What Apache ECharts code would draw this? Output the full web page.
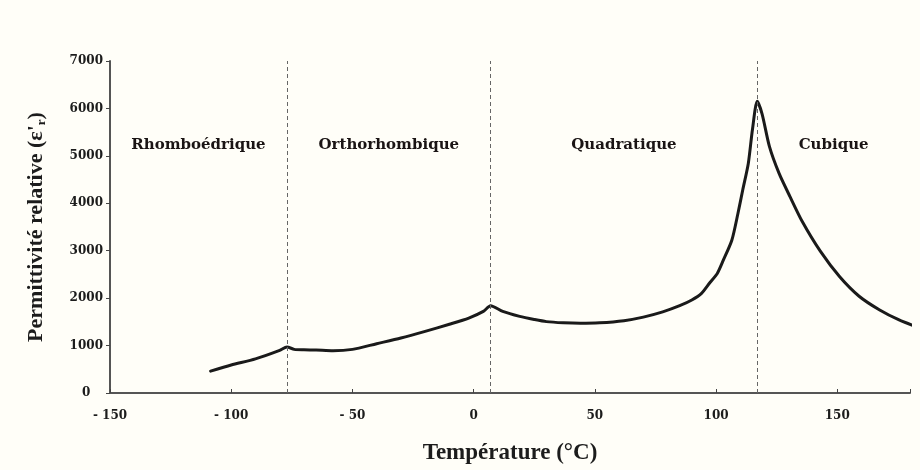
<!DOCTYPE html>
<html>
<head>
<meta charset="utf-8">
<script src="https://cdn.jsdelivr.net/npm/echarts@6/dist/echarts.min.js"></script>
<style>
  html, body { margin: 0; padding: 0; background: #fffef8; }
  #chart { width: 920px; height: 470px; }
</style>
</head>
<body>
<div id="chart"></div>
<script>
// Dielectric permittivity of BaTiO3 versus temperature
const temperatures = [-108.5, -100, -90, -80, -77, -74, -70, -65, -58, -50, -40, -30, -20, -10, -2, 4, 7,
  12, 19, 25, 30, 37, 44, 52, 62, 70, 78, 85, 90, 94, 97.5, 100.5, 103, 106.5, 109, 111, 113.3, 115, 117,
  119, 122, 126, 130.5, 135.5, 143, 151, 159, 167.5, 175.5, 183];
const permittivity = [460, 590, 720, 900, 970, 920, 910, 905, 890, 920, 1040, 1160, 1300, 1450, 1580, 1720, 1840,
  1720, 1615, 1550, 1505, 1480, 1470, 1480, 1525, 1600, 1710, 1840, 1960, 2100, 2330, 2520, 2800, 3220, 3780, 4280, 4840, 5550, 6150,
  5880, 5200, 4630, 4140, 3620, 2990, 2450, 2040, 1750, 1540, 1390];

// Phase transition temperatures (°C) and phase names
const transitions = [-77, 7, 117];
const phases = ['Rhomboédrique', 'Orthorhombique', 'Quadratique', 'Cubique'];

const xMin = -150, xMax = 180;
const labelLevel = 5230;

const bounds = [xMin, ...transitions, xMax];
const phaseLabels = phases.map((name, i) => ({
  name: name,
  value: [(bounds[i] + bounds[i + 1]) / 2, labelLevel]
}));

const times = '"Liberation Serif", "DejaVu Serif", serif';
const wide = '"DejaVu Serif", "Liberation Serif", serif';

const chart = echarts.init(document.getElementById('chart'), null, { renderer: 'canvas' });
chart.setOption({
  backgroundColor: '#fffef8',
  animation: false,
  grid: { left: 110, right: 10, top: 61, bottom: 77 },
  xAxis: {
    type: 'value',
    min: xMin,
    max: xMax,
    interval: 50,
    name: 'Température (°C)',
    nameLocation: 'middle',
    nameGap: 49,
    nameTextStyle: { fontFamily: times, fontWeight: 'bold', fontSize: 23, color: '#1c1c1c' },
    axisLine: { lineStyle: { color: '#555', width: 2 } },
    axisTick: { inside: true, length: 4, lineStyle: { color: '#444' } },
    splitLine: { show: false },
    axisLabel: {
      margin: 17,
      fontFamily: wide, fontWeight: 'bold', fontSize: 12, color: '#1c1c1c',
      formatter: v => (v > xMax - 1 ? '' : (v < 0 ? '- ' + Math.abs(v) : String(v)))
    }
  },
  yAxis: {
    type: 'value',
    min: 0,
    max: 7000,
    interval: 1000,
    name: "{n|Permittivité relative (ε'}{s|r}{n|)}",
    nameLocation: 'middle',
    nameGap: 62,
    nameTextStyle: {
      color: '#1c1c1c',
      rich: {
        n: { fontFamily: times, fontWeight: 'bold', fontSize: 22, color: '#1c1c1c' },
        s: { fontFamily: times, fontWeight: 'bold', fontSize: 13, color: '#1c1c1c', verticalAlign: 'bottom', padding: [10, 0, 0, 0] }
      }
    },
    axisLine: { show: true, onZero: false, lineStyle: { color: '#555', width: 2 } },
    axisTick: { show: true, length: 4, lineStyle: { color: '#444' } },
    splitLine: { show: false },
    axisLabel: {
      margin: 7,
      fontFamily: wide, fontWeight: 'bold', fontSize: 12, color: '#1c1c1c',
      formatter: v => (v === 0 ? '0   ' : String(v))
    }
  },
  series: [
    {
      type: 'line',
      data: temperatures.map((t, i) => [t, permittivity[i]]),
      showSymbol: false,
      smooth: 0.25,
      clip: false,
      lineStyle: { color: '#1a1a1a', width: 3, join: 'round', cap: 'round' },
      markLine: {
        silent: true,
        symbol: 'none',
        label: { show: false },
        lineStyle: { color: '#666', width: 1, type: [4, 3] },
        data: transitions.map(t => ({ xAxis: t }))
      },
      z: 3
    },
    {
      type: 'scatter',
      data: phaseLabels,
      symbolSize: 0,
      silent: true,
      itemStyle: { opacity: 1 },
      label: {
        show: true,
        position: 'inside',
        formatter: p => p.name,
        fontFamily: wide, fontWeight: 'bold', fontSize: 15, color: '#1a1414'
      }
    }
  ]
});
</script>
</body>
</html>
